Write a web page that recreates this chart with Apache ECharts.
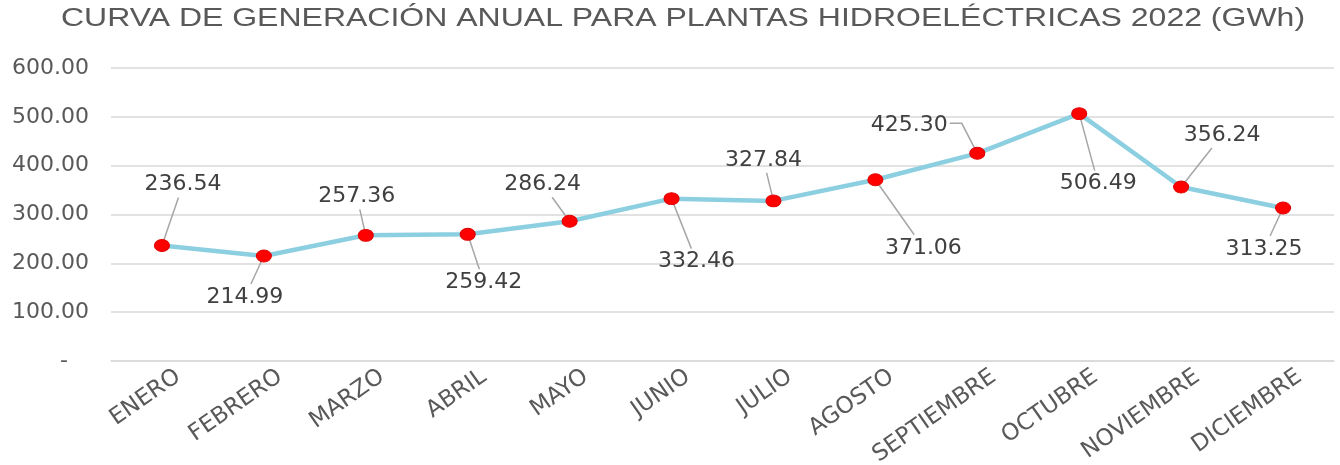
<!DOCTYPE html>
<html>
<head>
<meta charset="utf-8">
<script src="https://cdn.jsdelivr.net/npm/echarts@6/dist/echarts.min.js"></script>
<style>
  html, body { margin: 0; padding: 0; background: #fff; }
  #main { width: 1340px; height: 465px; }
</style>
</head>
<body>
<div id="main"></div>
<script>
'use strict'

// meses y generación (GWh)
const months = ['ENERO', 'FEBRERO', 'MARZO', 'ABRIL', 'MAYO', 'JUNIO',
    'JULIO', 'AGOSTO', 'SEPTIEMBRE', 'OCTUBRE', 'NOVIEMBRE', 'DICIEMBRE'];
const generation = [236.54, 214.99, 257.36, 259.42, 286.24, 332.46,
    327.84, 371.06, 425.30, 506.49, 356.24, 313.25];

// desplazamiento del centro de cada etiqueta respecto a su punto (px)
const labelShift = [
    [21, -61], [-19, 41], [-9, -39], [16, 48], [-27, -37], [25, 63],
    [-10, -41], [48, 68], [-68, -28], [19, 70], [41, -52], [-19, 41]
];
// etiquetas cuya guía sale del lado con un tramo horizontal
const elbowLabels = [8];

const titleText = 'CURVA DE GENERACIÓN ANUAL PARA PLANTAS HIDROELÉCTRICAS 2022 (GWh)';
const font = 'DejaVu Sans';
const labelSize = 22;

let myChart = echarts.init(document.getElementById('main'));

let ctx = document.createElement('canvas').getContext('2d');
ctx.font = labelSize + 'px "' + font + '"';
function textWidth(t) {
    return ctx.measureText(t).width;
}

// guía desde el borde de la etiqueta hasta el centro del punto
function leaderPoints(i, p) {
    let s = labelShift[i];
    let cx = p[0] + s[0], cy = p[1] + s[1];
    let hw = textWidth(generation[i].toFixed(2)) / 2 + 2;
    let hh = labelSize / 2 + 2;
    if (elbowLabels.indexOf(i) >= 0) {
        let sx = p[0] > cx ? cx + hw : cx - hw;
        let dir = p[0] > cx ? 1 : -1;
        return [[sx, cy - 2], [sx + dir * 12, cy - 2], p];
    }
    let vx = p[0] - cx, vy = p[1] - cy;
    let t = Math.min(hw / Math.abs(vx || 1e-6), hh / Math.abs(vy || 1e-6));
    return [[cx + vx * t, cy + vy * t], p];
}

myChart.setOption({
    backgroundColor: '#fff',
    animation: false,
    graphic: [{
        type: 'text',
        x: 683,
        y: 19,
        scaleX: 1.28,
        style: {
            text: titleText,
            fontFamily: 'Liberation Sans',
            fontSize: 25,
            fill: '#595959',
            textAlign: 'center',
            textVerticalAlign: 'middle'
        }
    }],
    grid: {
        left: 111,
        right: 6,
        top: 68,
        bottom: 104,
        outerBoundsMode: 'none'
    },
    xAxis: {
        type: 'category',
        data: months,
        axisLine: { lineStyle: { color: '#d9d9d9', width: 1.5 } },
        axisTick: { show: false },
        axisLabel: {
            interval: 0,
            rotate: 35,
            margin: 25,
            padding: [32, -20, 0, 0],
            color: '#595959',
            fontFamily: font,
            fontSize: 23
        }
    },
    yAxis: {
        type: 'value',
        min: 0,
        max: 600,
        interval: 100,
        axisLine: { show: false },
        axisTick: { show: false },
        splitLine: { lineStyle: { color: '#d9d9d9', width: 1.5 } },
        axisLabel: {
            margin: 22,
            color: '#595959',
            fontFamily: font,
            fontSize: 22,
            formatter: v => v === 0 ? '-   ' : v.toFixed(2)
        }
    },
    series: [{
        name: 'Generación',
        type: 'line',
        data: generation,
        symbol: 'path://M0,5 A5,5 0 1,0 10,5 A5,5 0 1,0 0,5 Z',
        symbolSize: [15, 12],
        lineStyle: { color: '#8ccfe1', width: 4.5 },
        itemStyle: { color: '#ff0000', borderColor: '#e00000', borderWidth: 1 },
        label: {
            show: true,
            position: 'top',
            color: '#404040',
            fontFamily: font,
            fontSize: labelSize,
            formatter: p => p.value.toFixed(2)
        },
        labelLayout: function (params) {
            let s = labelShift[params.dataIndex];
            let r = params.rect, lr = params.labelRect;
            return {
                dx: r.x + r.width / 2 + s[0] - (lr.x + lr.width / 2),
                dy: r.y + r.height / 2 + s[1] - (lr.y + lr.height / 2)
            };
        }
    }, {
        // líneas guía de las etiquetas
        name: 'guias',
        type: 'custom',
        z: 3,
        silent: true,
        data: generation.map((v, i) => [i, v]),
        renderItem: function (params, api) {
            let i = params.dataIndex;
            let p = api.coord([api.value(0), api.value(1)]);
            return {
                type: 'polyline',
                shape: { points: leaderPoints(i, p) },
                style: { stroke: '#a6a6a6', lineWidth: 1.5, fill: null }
            };
        }
    }]
});
</script>
</body>
</html>
